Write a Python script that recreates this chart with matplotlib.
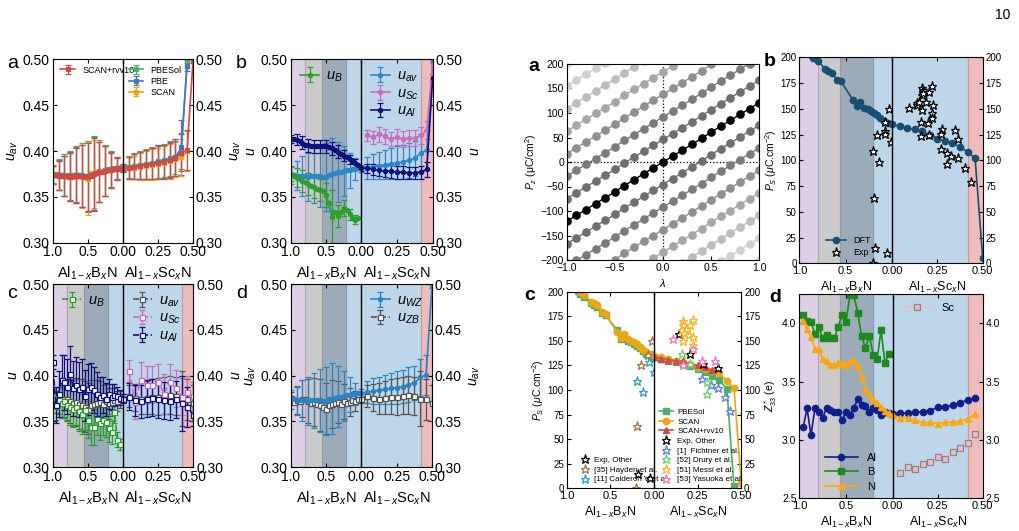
import matplotlib
matplotlib.use('Agg')
import numpy as np
import matplotlib.pyplot as plt

plt.rcParams['font.family'] = ['Liberation Sans', 'DejaVu Sans']
plt.rcParams['mathtext.fontset'] = 'custom'
plt.rcParams['mathtext.rm'] = 'Liberation Sans'
plt.rcParams['mathtext.it'] = 'Liberation Sans:italic'
plt.rcParams['mathtext.bf'] = 'Liberation Sans:bold'
plt.rcParams['xtick.direction'] = 'in'
plt.rcParams['ytick.direction'] = 'in'

# %% compositions
xB = [1.0, 0.958, 0.917, 0.875, 0.833, 0.792, 0.75, 0.708, 0.667, 0.625, 0.583, 0.542, 0.5,
      0.458, 0.417, 0.375, 0.333, 0.292, 0.25, 0.208, 0.167, 0.125, 0.083, 0.042, 0.0]
xS = [0.0, 0.042, 0.083, 0.125, 0.167, 0.208, 0.25, 0.292, 0.333, 0.375, 0.417, 0.458, 0.5]

# phase regions
bn_edges = [1.0, 0.8, 0.56, 0.21, 0.0]
bn_fill = ['#dccfe6', '#cacaca', '#9babb9', '#bdd6ea']
sc_edges = [0.0, 0.42, 0.5]
sc_fill = ['#bdd6ea', '#efbcbc']

# %% left figure, panel a: u_av per functional
ua_rvv_B = [0.374, 0.374, 0.373, 0.373, 0.373, 0.373, 0.372, 0.373, 0.373, 0.373, 0.373, 0.372, 0.372,
            0.374, 0.375, 0.376, 0.377, 0.377, 0.378, 0.379, 0.379, 0.380, 0.380, 0.381, 0.381]
ua_rvv_Be = [0.010, 0.013, 0.016, 0.019, 0.022, 0.024, 0.026, 0.028, 0.030, 0.032, 0.034, 0.036, 0.037,
             0.038, 0.039, 0.036, 0.033, 0.030, 0.027, 0.023, 0.019, 0.016, 0.012, 0.009, 0.004]
ua_sol_B = [0.375, 0.375, 0.374, 0.374, 0.374, 0.374, 0.373, 0.374, 0.374, 0.374, 0.374, 0.373, 0.373,
            0.375, 0.376, 0.377, 0.378, 0.378, 0.379, 0.380, 0.380, 0.381, 0.381, 0.382, 0.382]
ua_sol_Be = [0.010, 0.013, 0.017, 0.020, 0.023, 0.025, 0.027, 0.029, 0.031, 0.033, 0.035, 0.037, 0.038,
             0.039, 0.040, 0.037, 0.034, 0.031, 0.028, 0.024, 0.020, 0.016, 0.012, 0.009, 0.004]
ua_pbe_B = [0.374, 0.374, 0.374, 0.374, 0.373, 0.373, 0.373, 0.373, 0.374, 0.374, 0.373, 0.373, 0.372,
            0.373, 0.375, 0.376, 0.377, 0.378, 0.378, 0.379, 0.380, 0.380, 0.381, 0.381, 0.382]
ua_pbe_Be = [0.010, 0.013, 0.016, 0.019, 0.022, 0.024, 0.026, 0.028, 0.030, 0.032, 0.034, 0.036, 0.038,
             0.041, 0.040, 0.037, 0.033, 0.030, 0.027, 0.023, 0.019, 0.016, 0.012, 0.009, 0.004]
ua_scan_B = [0.374, 0.374, 0.373, 0.373, 0.373, 0.372, 0.372, 0.372, 0.373, 0.373, 0.372, 0.372, 0.370,
             0.376, 0.375, 0.377, 0.377, 0.378, 0.378, 0.379, 0.379, 0.380, 0.380, 0.381, 0.381]
ua_scan_Be = [0.010, 0.013, 0.016, 0.019, 0.022, 0.024, 0.026, 0.028, 0.030, 0.032, 0.034, 0.036, 0.040,
              0.035, 0.037, 0.035, 0.033, 0.030, 0.027, 0.023, 0.019, 0.016, 0.012, 0.009, 0.004]

ua_rvv_S = [0.381, 0.382, 0.383, 0.384, 0.385, 0.386, 0.387, 0.388, 0.390, 0.392, 0.398, 0.401, 0.498]
ua_rvv_Se = [0.004, 0.012, 0.014, 0.015, 0.016, 0.017, 0.018, 0.018, 0.019, 0.019, 0.020, 0.022, 0.002]
ua_sol_S = [0.382, 0.383, 0.384, 0.385, 0.386, 0.387, 0.389, 0.390, 0.392, 0.394, 0.400, 0.499]
ua_sol_Se = [0.004, 0.012, 0.014, 0.015, 0.016, 0.017, 0.018, 0.018, 0.019, 0.019, 0.020, 0.003]
ua_pbe_S = [0.382, 0.382, 0.383, 0.384, 0.385, 0.386, 0.388, 0.389, 0.391, 0.393, 0.404, 0.493]
ua_pbe_Se = [0.004, 0.012, 0.014, 0.015, 0.016, 0.017, 0.018, 0.018, 0.019, 0.020, 0.030, 0.006]
ua_scan_S = [0.381, 0.382, 0.382, 0.383, 0.384, 0.385, 0.386, 0.387, 0.389, 0.391, 0.393, 0.400]
ua_scan_Se = [0.004, 0.012, 0.013, 0.015, 0.016, 0.017, 0.017, 0.018, 0.019, 0.019, 0.020, 0.022]

# %% left figure, panel b: wurtzite u per species
uB_B = [0.375, 0.373, 0.371, 0.369, 0.367, 0.366, 0.364, 0.362, 0.361, 0.359, 0.358, 0.356,
        0.352, 0.343, 0.328, 0.333, 0.329, 0.334, 0.338, 0.336, 0.331, 0.327, 0.325, 0.327]
uB_Be = [0.008, 0.009, 0.010, 0.011, 0.012, 0.012, 0.012, 0.012, 0.012, 0.012, 0.012, 0.012,
         0.013, 0.014, 0.030, 0.010, 0.012, 0.010, 0.009, 0.008, 0.006, 0.006, 0.005, 0.004]
uAl_B = [0.413, 0.413, 0.412, 0.411, 0.409, 0.407, 0.406, 0.405, 0.405, 0.405, 0.405, 0.405, 0.405,
         0.404, 0.403, 0.401, 0.399, 0.397, 0.395, 0.393, 0.391, 0.389, 0.387, 0.385, 0.382]
uAl_Be = [0.004, 0.005, 0.006, 0.006, 0.007, 0.007, 0.007, 0.007, 0.007, 0.007, 0.007, 0.007, 0.007,
          0.007, 0.007, 0.007, 0.007, 0.006, 0.006, 0.006, 0.005, 0.005, 0.004, 0.004, 0.003]
uSc_S = [0.417, 0.415, 0.418, 0.416, 0.413, 0.415, 0.413, 0.414, 0.414, 0.417, 0.423, 0.494]
uSc_Se = [0.006, 0.007, 0.008, 0.008, 0.008, 0.009, 0.009, 0.009, 0.009, 0.009, 0.010, 0.004]
uAl_S = [0.381, 0.381, 0.380, 0.379, 0.378, 0.378, 0.377, 0.377, 0.376, 0.376, 0.377, 0.380, 0.480]
uAl_Se = [0.003, 0.005, 0.006, 0.006, 0.006, 0.007, 0.007, 0.007, 0.007, 0.007, 0.007, 0.008, 0.004]

# %% left figure, panel c: zinc blende u per species
uBz_B = [0.376, 0.367, 0.373, 0.370, 0.372, 0.368, 0.366, 0.364, 0.366, 0.361, 0.358, 0.363,
         0.352, 0.344, 0.344, 0.353, 0.348, 0.352, 0.349, 0.343, 0.338, 0.360, 0.330, 0.325]
uBz_Be = [0.012, 0.015, 0.015, 0.016, 0.018, 0.018, 0.020, 0.020, 0.020, 0.021, 0.022, 0.022,
          0.020, 0.020, 0.020, 0.018, 0.018, 0.017, 0.016, 0.015, 0.013, 0.012, 0.008, 0.006]
uAlz_B = [0.415, 0.368, 0.380, 0.395, 0.393, 0.388, 0.402, 0.386, 0.390, 0.385, 0.388, 0.378, 0.385,
          0.388, 0.384, 0.380, 0.377, 0.379, 0.374, 0.380, 0.377, 0.379, 0.378, 0.376, 0.375]
uAlz_Be = [0.008, 0.020, 0.025, 0.028, 0.030, 0.030, 0.030, 0.030, 0.030, 0.030, 0.030, 0.028, 0.028,
           0.026, 0.025, 0.024, 0.022, 0.020, 0.018, 0.016, 0.014, 0.012, 0.010, 0.008, 0.005]
uavz_B = [0.376, 0.371, 0.373, 0.372, 0.375, 0.374, 0.372, 0.370, 0.371, 0.369, 0.368, 0.366, 0.364,
          0.368, 0.369, 0.370, 0.371, 0.369, 0.372, 0.370, 0.371, 0.373, 0.372, 0.374, 0.375]
uavz_Be = [0.006, 0.012, 0.015, 0.018, 0.020, 0.022, 0.024, 0.025, 0.026, 0.027, 0.028, 0.028, 0.028,
           0.027, 0.026, 0.025, 0.023, 0.021, 0.019, 0.017, 0.015, 0.013, 0.011, 0.009, 0.005]
uAlz_S = [0.375, 0.377, 0.373, 0.372, 0.375, 0.376, 0.374, 0.373, 0.372, 0.374, 0.370, 0.366, 0.357]
uAlz_Se = [0.005, 0.015, 0.017, 0.018, 0.020, 0.020, 0.020, 0.020, 0.020, 0.020, 0.030, 0.022, 0.012]
uScz_S = [0.405, 0.371, 0.395, 0.390, 0.390, 0.393, 0.380, 0.393, 0.386, 0.377, 0.382, 0.378]
uScz_Se = [0.012, 0.018, 0.020, 0.020, 0.020, 0.020, 0.022, 0.020, 0.020, 0.020, 0.018, 0.015]
uavz_S = [0.375, 0.378, 0.376, 0.375, 0.376, 0.377, 0.377, 0.378, 0.379, 0.378, 0.375, 0.374, 0.370]
uavz_Se = [0.005, 0.012, 0.015, 0.017, 0.018, 0.019, 0.020, 0.020, 0.021, 0.021, 0.030, 0.022, 0.020]

# %% right figure, panel a: polarization branches
lam = [-1.0, -0.9, -0.8, -0.7, -0.6, -0.5, -0.4, -0.3, -0.2, -0.1, 0.0,
       0.1, 0.2, 0.3, 0.4, 0.5, 0.6, 0.7, 0.8, 0.9, 1.0]
Pz0 = [-121, -109, -97, -85, -73, -61, -48, -36, -24, -12, 0,
       12, 24, 36, 48, 61, 73, 85, 97, 109, 121]
branch_n = [-7, -6, -5, -4, -3, -2, -1, 1, 2, 3, 4, 5, 6, 7, 0]
P_quantum = 46
branch_grey = ['k', '#6f6f6f', '#7b7b7b', '#8f8f8f', '#a7a7a7', '#bdbdbd', '#d0d0d0', '#e0e0e0']

# %% right figure, panel b/c: spontaneous polarization
dft_xB = [0.875, 0.849, 0.80, 0.72, 0.687, 0.651, 0.59, 0.554, 0.424, 0.381, 0.345, 0.299,
          0.263, 0.227, 0.198, 0.165, 0.129, 0.086, 0.04, 0.0]
Ps_B = [202, 199, 196, 189, 187, 185, 178, 177, 159, 153, 157, 151, 150, 148, 146, 144, 141, 138.5, 136.5, 135]
Ps_S = [135, 133, 131, 130, 128, 125, 121, 119, 116.5, 113, 108, 102, 5]
exp_xB = [0.036, 0.011, 0.076, 0.079, 0.072, 0.158, 0.137, 0.205, 0.198, 0.183, 0.20, 0.058]
exp_B = [150, 118, 137, 128, 126, 125, 98, 109, 63, 15, 0.6, 10]
exp_xS = [0.096, 0.136, 0.14, 0.151, 0.165, 0.169, 0.164, 0.173, 0.167, 0.186, 0.202, 0.219, 0.226,
          0.22, 0.219, 0.198, 0.162, 0.162, 0.202, 0.274, 0.272, 0.27, 0.303, 0.325, 0.303, 0.346,
          0.362, 0.364, 0.404, 0.434]
exp_S = [151, 156, 154, 157, 170, 168, 163, 165, 149, 157, 166, 172, 154, 146, 141, 136, 137, 124,
         125, 130, 126, 111, 107, 104, 96, 129, 121, 102, 93, 79]

sol_B = [201, 198, 195, 188, 186, 184, 178, 176, 161, 152, 156, 150, 149, 147, 145, 143, 140, 137, 135, 134]
scan_B = [203, 200, 197, 190, 188, 186, 179, 177, 159, 153, 157, 152, 150, 149, 147, 144, 141, 139, 137, 136]
sol_S = [134, 132, 130, 128, 126, 124, 121, 118, 114, 110, 101, 2]
scan_S = [135, 134, 132, 130, 128, 126, 123, 121, 119, 117, 109, 102, 5]
rvv_S = [134, 132, 131, 129.5, 129, 126.5, 125, 123, 120]

ref_other_xB = [0.179, 0.046]
ref_other_B = [15, 10]
ref_hayden_xB = [0.023, 0.065, 0.153, 0.19, 0.206]
ref_hayden_B = [150, 136, 125, 63, 0]
ref_calderon_xB = [0.061, 0.198, 0.13, 0.004]
ref_calderon_B = [128, 109, 98, 118]
ref_other_xS = [0.141, 0.206, 0.279, 0.368]
ref_other_S = [157, 137, 126, 122]
ref_fichtner_xS = [0.273, 0.326, 0.366, 0.406, 0.435]
ref_fichtner_S = [111, 105, 102, 93, 79]
ref_drury_xS = [0.162, 0.206, 0.302, 0.304]
ref_drury_S = [137, 126, 108, 96]
ref_messi_xS = [0.164, 0.168, 0.158, 0.19, 0.172, 0.198, 0.168, 0.221, 0.206, 0.225, 0.221]
ref_messi_S = [170, 166, 161, 162, 158, 156, 150, 171, 166, 154, 146]
ref_yasuoka_xS = [0.107, 0.223, 0.273, 0.347, 0.168]
ref_yasuoka_S = [152, 142, 130, 129, 125]

# %% right figure, panel d: Born effective charges
zxB = [0.958, 0.917, 0.875, 0.833, 0.792, 0.75, 0.708, 0.667, 0.625, 0.583, 0.542, 0.5,
       0.458, 0.417, 0.375, 0.333, 0.292, 0.25, 0.208, 0.167, 0.125, 0.083, 0.042, 0.0]
ZAl_B = [3.11, 3.27, 3.04, 3.27, 3.24, 3.19, 3.27, 3.26, 3.24, 3.24, 3.17, 3.24,
         3.21, 3.27, 3.35, 3.30, 3.29, 3.24, 3.27, 3.26, 3.21, 3.24, 3.23, 3.22]
ZB_B = [4.07, 4.02, 4.01, 3.91, 3.97, 3.87, 3.90, 3.87, 3.87, 3.97, 4.07, 4.01,
        4.24, 4.24, 4.09, 3.89, 3.79, 3.89, 3.73, 3.69, 3.94, 3.66, 3.74]
ZN_B = [4.02, 3.95, 3.88, 3.78, 3.78, 3.69, 3.68, 3.64, 3.64, 3.66, 3.66, 3.64,
        3.68, 3.68, 3.63, 3.54, 3.44, 3.39, 3.35, 3.32, 3.28, 3.25, 3.23, 3.21]
ZAl_S = [3.22, 3.23, 3.23, 3.24, 3.24, 3.25, 3.28, 3.28, 3.30, 3.32, 3.34, 3.36]
ZN_S = [3.21, 3.19, 3.19, 3.17, 3.15, 3.15, 3.14, 3.15, 3.15, 3.16, 3.18, 3.22]
ZSc_S = [2.72, 2.77, 2.75, 2.79, 2.81, 2.85, 2.84, 2.90, 2.93, 2.97, 3.05]

# %% helpers
W, H = 1020, 531
fig = plt.figure(figsize=(W / 100, H / 100), dpi=100)


def box(x0, x1, ytop, ybot):
    return [x0 / W, 1 - ybot / H, (x1 - x0) / W, (ybot - ytop) / H]


def make_pair(x0, xm, x1, ytop, ybot, xfs, yfs):
    axl = fig.add_axes(box(x0, xm, ytop, ybot))
    axr = fig.add_axes(box(xm, x1, ytop, ybot), sharey=axl)
    axr.patch.set_visible(False)
    axl.set_xlim(1.0, 0.0)
    axr.set_xlim(0.0, 0.5)
    axl.set_xticks([1.0, 0.5, 0.0])
    axl.set_xticklabels(['1.0', '0.5', ''])
    axr.set_xticks([0.0, 0.25, 0.5])
    axr.set_xticklabels(['0.00', '0.25', '0.50'])
    for a in (axl, axr):
        a.tick_params(axis='x', labelsize=xfs, length=3, width=0.8, top=True, pad=2)
        a.tick_params(axis='y', labelsize=yfs, length=3, width=0.8, pad=2)
    axl.tick_params(axis='y', right=False)
    axr.tick_params(axis='y', left=False, labelleft=False, right=True, labelright=True)
    axr.yaxis.set_label_position('right')
    axl.spines['right'].set_visible(False)
    axr.spines['left'].set_color('k')
    axr.spines['left'].set_linewidth(1.0)
    axr.spines['left'].set_zorder(5)
    return axl, axr


def shade(axl, axr):
    for i in range(len(bn_fill)):
        axl.axvspan(bn_edges[i], bn_edges[i + 1], color=bn_fill[i], lw=0, zorder=0)
    for i in range(len(sc_fill)):
        axr.axvspan(sc_edges[i], sc_edges[i + 1], color=sc_fill[i], lw=0, zorder=0)
    for xv, c in zip(bn_edges[1:-1], ['#b3a2c2', '#9c9c9c', '#8d9eae']):
        axl.axvline(xv, color=c, lw=0.9, zorder=0.5)
    axr.axvline(sc_edges[1], color='#c99a9a', lw=0.9, zorder=0.5)


def eb(ax, x, y, e, c, m='o', ls='-', ms=3.0, mfc=None, lw=1.2, every=1, label=None):
    ax.errorbar(x, y, yerr=e, color=c, marker=m, ls=ls, ms=ms, mfc=mfc if mfc else c, mec=c,
                mew=0.9, lw=lw, elinewidth=0.9, capsize=2, capthick=0.9, errorevery=every,
                label=label)


def u_labels(axl, axr, ll, rl, ylim=(0.30, 0.50)):
    axl.set_ylim(*ylim)
    axl.set_yticks([0.30, 0.35, 0.40, 0.45, 0.50])
    axl.set_ylabel(ll, fontsize=10, labelpad=2)
    axr.set_ylabel(rl, fontsize=10, labelpad=4)
    axl.set_xlabel('Al$_{1-x}$B$_x$N', fontsize=10.5, labelpad=4)
    axr.set_xlabel('Al$_{1-x}$Sc$_x$N', fontsize=10.5, labelpad=4)


def u_legend(ax):
    ax.legend(loc='upper left', frameon=False, fontsize=10.5, handlelength=1.3, handletextpad=0.5,
              borderaxespad=0.25, labelspacing=0.15)


c_rvv, c_sol, c_pbe, c_scan = '#cc4a4a', '#4fae68', '#4a72c0', '#eba612'
c_uB, c_uav, c_uSc, c_uAl = '#2ca02c', '#2f86c6', '#cc6cc0', '#0c1080'
zb = dict(m='s', ls='--', mfc='white', ms=3.6)

# %% left figure, panel a
al, ar = make_pair(52.7, 122.7, 193, 59.3, 242.7, 10, 10)
eb(al, xB, ua_sol_B, ua_sol_Be, c_sol, m='s', ms=2.6, every=2)
eb(al, xB, ua_pbe_B, ua_pbe_Be, c_pbe, m='s', ms=2.6, every=2)
eb(al, xB, ua_scan_B, ua_scan_Be, c_scan, m='s', ms=2.6, every=2)
eb(al, xB, ua_rvv_B, ua_rvv_Be, c_rvv, m='s', ms=2.6, every=2, label='SCAN+rvv10')
eb(ar, xS[:12], ua_sol_S, ua_sol_Se, c_sol, m='s', ms=2.6, label='PBESol')
eb(ar, xS[:12], ua_pbe_S, ua_pbe_Se, c_pbe, m='s', ms=2.6, label='PBE')
eb(ar, xS[:12], ua_scan_S, ua_scan_Se, c_scan, m='s', ms=2.6, label='SCAN')
eb(ar, xS, ua_rvv_S, ua_rvv_Se, c_rvv, m='s', ms=2.6)
u_labels(al, ar, '$u_{av}$', '$u_{av}$')
al.legend(loc='upper left', frameon=False, fontsize=6.5, handlelength=1.6, borderaxespad=0.3,
          bbox_to_anchor=(0.02, 1.0))
ar.legend(loc='upper left', frameon=False, fontsize=6.5, handlelength=1.6, borderaxespad=0.3,
          labelspacing=0.25, bbox_to_anchor=(0.0, 1.0))

# %% left figure, panel b
bl, br = make_pair(290.7, 361.3, 432.7, 59.3, 242.7, 10, 10)
shade(bl, br)
eb(bl, xB, ua_rvv_B, ua_rvv_Be, c_uav, every=2)
eb(bl, xB, uAl_B, uAl_Be, c_uAl, every=2)
eb(bl, xB[:-1], uB_B, uB_Be, c_uB, every=2, label='$u_B$')
eb(br, xS, ua_rvv_S, ua_rvv_Se, c_uav, label='$u_{av}$')
eb(br, xS[1:], uSc_S, uSc_Se, c_uSc, label='$u_{Sc}$')
eb(br, xS, uAl_S, uAl_Se, c_uAl, label='$u_{Al}$')
u_labels(bl, br, '$u$', '$u$')
u_legend(bl)
u_legend(br)

# %% left figure, panel c
cl, cr = make_pair(52.7, 123.3, 193.3, 284, 467.3, 10, 10)
shade(cl, cr)
eb(cl, xB, uavz_B, uavz_Be, '#555555', **zb)
eb(cl, xB[:-1], uBz_B, uBz_Be, c_uB, label='$u_B$', **zb)
eb(cl, xB, uAlz_B, uAlz_Be, c_uAl, **zb)
eb(cr, xS, uavz_S, uavz_Se, '#555555', label='$u_{av}$', **zb)
eb(cr, xS[1:], uScz_S, uScz_Se, c_uSc, label='$u_{Sc}$', **zb)
eb(cr, xS, uAlz_S, uAlz_Se, c_uAl, label='$u_{Al}$', **zb)
u_labels(cl, cr, '$u$', '$u$')
u_legend(cl)
u_legend(cr)

# %% left figure, panel d
dl, dr = make_pair(290.7, 361.3, 432, 284, 467.3, 10, 10)
shade(dl, dr)
eb(dl, xB, uavz_B, uavz_Be, '#555555', every=2, **zb)
eb(dl, xB, ua_rvv_B, ua_rvv_Be, '#2b83c4', every=2)
eb(dr, xS, ua_rvv_S, ua_rvv_Se, '#2b83c4', label='$u_{WZ}$')
eb(dr, xS, uavz_S, uavz_Se, '#555555', label='$u_{ZB}$', **zb)
u_labels(dl, dr, '$u_{av}$', '$u_{av}$')
u_legend(dr)

for t, x, y in [('a', 7, 68), ('b', 236, 68), ('c', 7, 298), ('d', 236, 298)]:
    fig.text(x / W, 1 - y / H, t, fontsize=14)

# %% right figure, panel a
pa = fig.add_axes(box(566.7, 759.3, 64, 260))
for n in branch_n:
    Pn = np.array(Pz0) + n * P_quantum
    pa.plot(lam, Pn, '-o', color=branch_grey[abs(n)], ms=5.2, lw=1.0, zorder=3 if n == 0 else 2)
pa.axvline(0, color='k', ls=':', lw=0.9, zorder=1)
pa.axhline(0, color='k', ls=':', lw=0.9, zorder=1)
pa.set_xlim(-1, 1)
pa.set_ylim(-200, 200)
pa.set_xticks([-1.0, -0.5, 0.0, 0.5, 1.0])
pa.set_yticks([-200, -150, -100, -50, 0, 50, 100, 150, 200])
pa.tick_params(labelsize=7.5, length=3, width=0.8, pad=2)
pa.set_xlabel(r'$\lambda$', fontsize=8, labelpad=3)
pa.set_ylabel(r'$P_z$ (μC/cm$^2$)', fontsize=7.5, labelpad=1)

c_dft = '#174f70'
star = dict(marker='*', ls='none', ms=6.5, mfc='white', mew=0.9)

# %% right figure, panel b
pbl, pbr = make_pair(799.3, 892, 982.7, 57.3, 263.3, 8, 7)
shade(pbl, pbr)
pbl.plot(dft_xB, Ps_B, '-o', color=c_dft, ms=4.5, lw=1.2, label='DFT')
pbl.plot(exp_xB, exp_B, mec='k', label='Exp', **star)
pbr.plot(xS, Ps_S, '-o', color=c_dft, ms=4.5, lw=1.2)
pbr.plot(exp_xS, exp_S, mec='k', **star)
pbl.set_ylim(0, 200)
pbl.set_yticks([0, 25, 50, 75, 100, 125, 150, 175, 200])
pbl.set_ylabel(r'$P_S$ ($\mu$C.cm$^{-2}$)', fontsize=7.5, labelpad=1)
pbl.set_xlabel('Al$_{1-x}$B$_x$N', fontsize=9, labelpad=3)
pbr.set_xlabel('Al$_{1-x}$Sc$_x$N', fontsize=9, labelpad=3)
pbl.legend(loc='lower left', bbox_to_anchor=(0.22, 0.0), frameon=False, fontsize=6.5,
           handlelength=2.2, borderaxespad=0.3, labelspacing=0.3)

# %% right figure, panel c
pcl, pcr = make_pair(566.7, 654, 741.3, 291.7, 488.3, 8, 7)
pcl.plot(dft_xB, sol_B, '-s', color=c_sol, ms=4.5, lw=1.2)
pcl.plot(dft_xB, scan_B, '-o', color=c_scan, ms=4.5, lw=1.2)
pcl.plot(ref_other_xB, ref_other_B, mec='k', label='Exp, Other', **star)
pcl.plot(ref_hayden_xB, ref_hayden_B, mec='#a27544', label='[35] Hayden et al.', **star)
pcl.plot(ref_calderon_xB, ref_calderon_B, mec='#2b9fbc', label='[11] Calderon V et al.', **star)
pcr.plot(xS[:12], sol_S, '-s', color=c_sol, ms=4.5, lw=1.2, label='PBESol')
pcr.plot(xS, scan_S, '-o', color=c_scan, ms=4.5, lw=1.2, label='SCAN')
pcr.plot(xS[:9], rvv_S, '-^', color=c_rvv, ms=4.5, lw=1.2, label='SCAN+rvv10')
pcr.plot(ref_other_xS, ref_other_S, mec='k', label='Exp, Other', **star)
pcr.plot(ref_fichtner_xS, ref_fichtner_S, mec='#5b7fe0', label='[1]  Fichtner et al.', **star)
pcr.plot(ref_drury_xS, ref_drury_S, mec='#6fcf6f', label='[52] Drury et al.', **star)
pcr.plot(ref_messi_xS, ref_messi_S, mec='#ffb324', label='[51] Messi et al.', **star)
pcr.plot(ref_yasuoka_xS, ref_yasuoka_S, mec='#ee78bd', label='[53] Yasuoka et al.', **star)
pcl.set_ylim(0, 200)
pcl.set_yticks([0, 25, 50, 75, 100, 125, 150, 175, 200])
pcl.set_ylabel(r'$P_S$ ($\mu$C.cm$^{-2}$)', fontsize=7.5, labelpad=1)
pcl.set_xlabel('Al$_{1-x}$B$_x$N', fontsize=9, labelpad=3)
pcr.set_xlabel('Al$_{1-x}$Sc$_x$N', fontsize=9, labelpad=3)
pcl.legend(loc='lower left', bbox_to_anchor=(0.1, 0.0), frameon=False, fontsize=5.8,
           handlelength=1.2, borderaxespad=0.2, labelspacing=0.25, handletextpad=0.5)
pcr.legend(loc='lower left', bbox_to_anchor=(0.0, 0.0), frameon=False, fontsize=5.8,
           handlelength=1.8, borderaxespad=0.2, labelspacing=0.25, handletextpad=0.5)

# %% right figure, panel d
pdl, pdr = make_pair(799.3, 892.7, 982.7, 294, 498.3, 8, 7.5)
shade(pdl, pdr)
pdl.plot(zxB, ZAl_B, '-o', color='#121e8c', ms=4.5, lw=1.2, label='Al')
pdl.plot(zxB[:-1], ZB_B, '-s', color='#1c8a1c', ms=4.5, lw=1.2, label='B')
pdl.plot(zxB, ZN_B, '-^', color='#fba810', ms=4.5, lw=1.2, label='N')
pdr.plot(xS[:12], ZAl_S, '-o', color='#121e8c', ms=4.5, lw=1.2)
pdr.plot(xS[:12], ZN_S, '-^', color='#fba810', ms=4.5, lw=1.2)
pdr.plot(xS[1:12], ZSc_S, '-s', color='#f5b8c0', mfc='#f5b8c0', mec='#888888', mew=0.9,
         ms=4.5, lw=1.2, label='Sc')
pdl.set_ylim(2.5, 4.25)
pdl.set_yticks([2.5, 3.0, 3.5, 4.0])
pdl.set_ylabel(r'$Z^*_{33}$ (e)', fontsize=7.5, labelpad=2)
pdl.set_xlabel('Al$_{1-x}$B$_x$N', fontsize=9, labelpad=3)
pdr.set_xlabel('Al$_{1-x}$Sc$_x$N', fontsize=9, labelpad=3)
pdl.legend(loc='lower left', bbox_to_anchor=(0.2, 0.0), frameon=False, fontsize=8,
           handlelength=3.0, borderaxespad=0.2, labelspacing=0.4)
pdr.legend(loc='upper left', frameon=False, fontsize=8, handlelength=2.8, borderaxespad=0.4)

for t, x, y in [('a', 528, 71), ('b', 764, 66), ('c', 524, 300), ('d', 769, 302)]:
    fig.text(x / W, 1 - y / H, t, fontsize=14, fontweight='bold')

fig.text(1010 / W, 1 - 15 / H, '10', fontsize=10, ha='right', va='center')

fig.savefig('out.png', dpi=100)
